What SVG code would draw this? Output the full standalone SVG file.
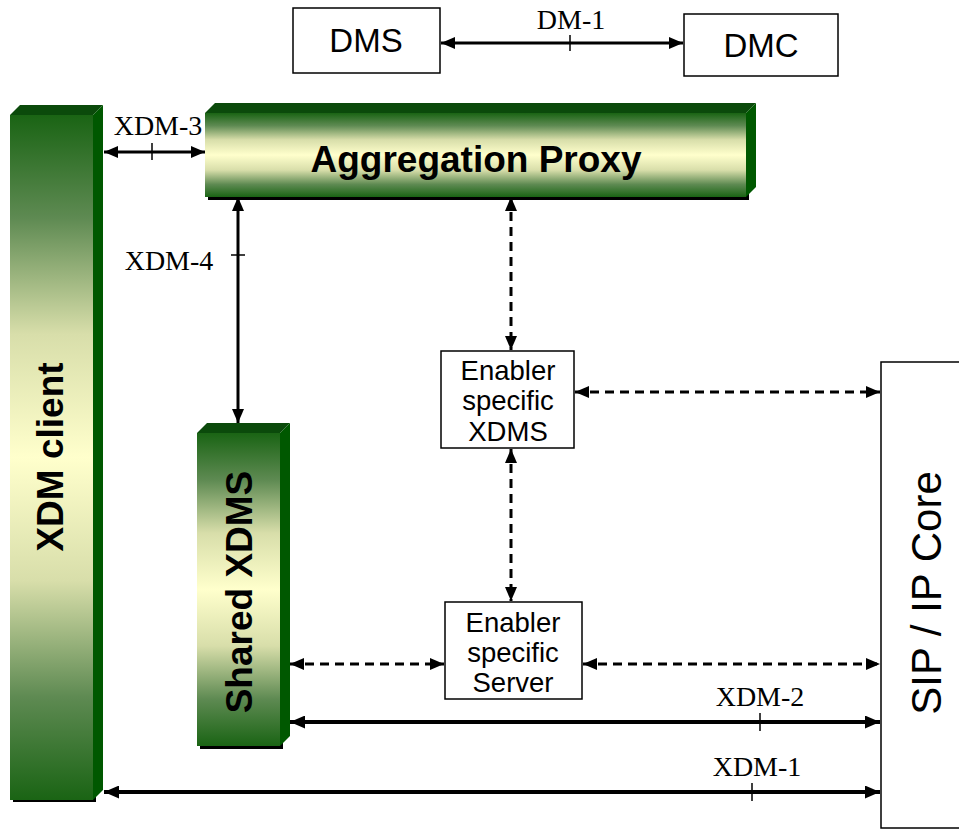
<svg xmlns="http://www.w3.org/2000/svg" width="959" height="830" viewBox="0 0 959 830">
  <style>
    .box { fill: #ffffff; stroke: #000000; stroke-width: 1.5; }
    .front { fill: url(#bevelGrad); }
    .topface { fill: #0b4a0b; }
    .sideface { fill: #005800; }
    .shadow { fill: #000000; }
    .bold { font-family: "Liberation Sans", Arial, sans-serif; font-weight: bold; font-size: 37px; fill: #000000; text-anchor: middle; }
    .plain { font-family: "Liberation Sans", Arial, sans-serif; font-size: 27.5px; fill: #000000; text-anchor: middle; }
    .label { font-family: "Liberation Serif", "Times New Roman", serif; font-size: 28px; fill: #000000; text-anchor: middle; }
    .solid { stroke: #000000; stroke-width: 3; fill: none; marker-start: url(#arrow); marker-end: url(#arrow); }
    .thick { stroke: #000000; stroke-width: 4; fill: none; marker-start: url(#arrowBig); marker-end: url(#arrowBig); }
    .dashed { stroke: #000000; stroke-width: 3; stroke-dasharray: 9 6; fill: none; marker-start: url(#arrow); marker-end: url(#arrow); }
    .tick { stroke: #000000; stroke-width: 1.5; }
  </style>
  <defs>
    <linearGradient id="bevelGrad" x1="0" y1="0" x2="0" y2="1">
      <stop offset="0" stop-color="#1a6414"/>
      <stop offset="0.15" stop-color="#5e8a52"/>
      <stop offset="0.32" stop-color="#d8deaa"/>
      <stop offset="0.5" stop-color="#ffffcc"/>
      <stop offset="0.68" stop-color="#d8deaa"/>
      <stop offset="0.85" stop-color="#5e8a52"/>
      <stop offset="1" stop-color="#1a6414"/>
    </linearGradient>
    <marker id="arrow" markerUnits="userSpaceOnUse" markerWidth="14" markerHeight="12" refX="14" refY="6" orient="auto-start-reverse">
      <path d="M0,0 L14,6 L0,12 Z" fill="#000000"/>
    </marker>
    <marker id="arrowBig" markerUnits="userSpaceOnUse" markerWidth="15" markerHeight="13" refX="15" refY="6.5" orient="auto-start-reverse">
      <path d="M0,0 L15,6.5 L0,13 Z" fill="#000000"/>
    </marker>
  </defs>

  <!-- DMS -->
  <g id="dms">
    <rect class="box" x="293" y="8" width="147" height="65"/>
    <text class="plain" x="366" y="52" style="font-size:33px">DMS</text>
  </g>

  <!-- DMC -->
  <g id="dmc">
    <rect class="box" x="684" y="14" width="154" height="62"/>
    <text class="plain" x="761" y="57" style="font-size:33px">DMC</text>
  </g>

  <!-- XDM client: vertical bevelled bar -->
  <g id="xdm-client">
    <rect class="shadow" x="13" y="118" width="83" height="684"/>
    <rect class="front" x="10" y="115" width="83" height="685"/>
    <polygon class="topface" points="10,115 20,105 103,105 93,115"/>
    <polygon class="sideface" points="93,115 103,105 103,790 93,800"/>
    <text class="bold" transform="translate(63,457) rotate(-90)">XDM client</text>
  </g>

  <!-- Aggregation Proxy: horizontal bevelled bar -->
  <g id="aggregation-proxy">
    <rect class="shadow" x="208" y="116" width="541" height="84"/>
    <rect class="front" x="205" y="113" width="541" height="84"/>
    <polygon class="topface" points="205,113 215,103 756,103 746,113"/>
    <polygon class="sideface" points="746,113 756,103 756,187 746,197"/>
    <text class="bold" x="476" y="172">Aggregation Proxy</text>
  </g>

  <!-- Shared XDMS: vertical bevelled bar -->
  <g id="shared-xdms">
    <rect class="shadow" x="200" y="436" width="83" height="313"/>
    <rect class="front" x="197" y="433" width="83" height="313"/>
    <polygon class="topface" points="197,433 207,423 290,423 280,433"/>
    <polygon class="sideface" points="280,433 290,423 290,736 280,746"/>
    <text class="bold" transform="translate(252,592) rotate(-90)">Shared XDMS</text>
  </g>

  <!-- Enabler specific XDMS -->
  <g id="enabler-xdms">
    <rect class="box" x="441" y="351" width="133" height="97"/>
    <text class="plain" x="508" y="380">Enabler</text>
    <text class="plain" x="508" y="410">specific</text>
    <text class="plain" x="508" y="441">XDMS</text>
  </g>

  <!-- Enabler specific Server -->
  <g id="enabler-server">
    <rect class="box" x="445" y="602" width="137" height="97"/>
    <text class="plain" x="513" y="632">Enabler</text>
    <text class="plain" x="513" y="662">specific</text>
    <text class="plain" x="513" y="692">Server</text>
  </g>

  <!-- SIP / IP Core -->
  <g id="sip-ip-core">
    <rect class="box" x="881" y="362" width="90" height="466"/>
    <text class="plain" transform="translate(941,593) rotate(-90)" style="font-size:42px">SIP / IP Core</text>
  </g>

  <!-- Connectors -->
  <g id="connectors">
    <!-- DM-1 -->
    <line class="solid" x1="441" y1="43" x2="683" y2="43"/>
    <line class="tick" x1="570" y1="35" x2="570" y2="51"/>
    <text class="label" x="571" y="29">DM-1</text>

    <!-- XDM-3 -->
    <line class="solid" x1="104" y1="152" x2="205" y2="152"/>
    <line class="tick" x1="152" y1="143" x2="152" y2="160"/>
    <text class="label" x="158" y="135">XDM-3</text>

    <!-- XDM-4 -->
    <line class="solid" x1="238" y1="197" x2="238" y2="423"/>
    <line class="tick" x1="231" y1="255" x2="245" y2="255"/>
    <text class="label" x="169" y="270">XDM-4</text>

    <!-- Aggregation Proxy to Enabler specific XDMS -->
    <line class="dashed" x1="511" y1="197" x2="511" y2="350"/>
    <!-- Enabler specific XDMS to Enabler specific Server -->
    <line class="dashed" x1="511" y1="449" x2="511" y2="601"/>
    <!-- Enabler specific XDMS to SIP / IP Core -->
    <line class="dashed" x1="575" y1="392" x2="880" y2="392"/>
    <!-- Shared XDMS to Enabler specific Server -->
    <line class="dashed" x1="290" y1="664" x2="444" y2="664"/>
    <!-- Enabler specific Server to SIP / IP Core -->
    <line class="dashed" x1="583" y1="664" x2="880" y2="664"/>

    <!-- XDM-2 -->
    <line class="thick" x1="290" y1="722" x2="880" y2="722"/>
    <line class="tick" x1="760" y1="713" x2="760" y2="731"/>
    <text class="label" x="760" y="706">XDM-2</text>

    <!-- XDM-1 -->
    <line class="thick" x1="104" y1="792" x2="880" y2="792"/>
    <line class="tick" x1="752" y1="783" x2="752" y2="801"/>
    <text class="label" x="757" y="776">XDM-1</text>
  </g>
</svg>
